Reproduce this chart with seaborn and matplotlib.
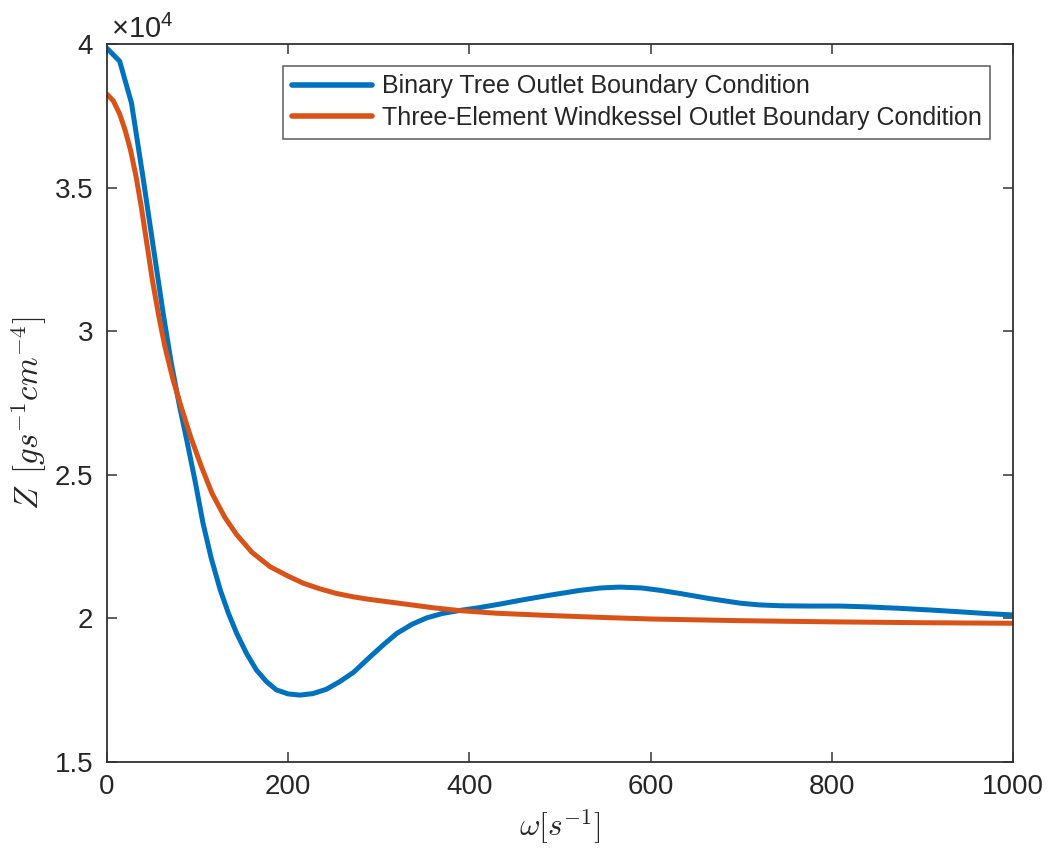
import numpy as np
import pandas as pd
import matplotlib
matplotlib.use("Agg")
import matplotlib.pyplot as plt
import seaborn as sns
from matplotlib.ticker import FuncFormatter, FixedLocator

# Input impedance modulus versus angular frequency for two outlet models
omega_tree = [0, 14, 27, 40, 51, 62, 71, 80, 88, 97, 106, 115, 125, 134, 143,
              154, 165, 176, 187, 200, 213, 227, 242, 257, 272, 290, 305, 320,
              337, 353, 370, 390, 410, 434, 456, 489, 522, 545, 566, 590, 610,
              632, 665, 699, 720, 743, 775, 809, 840, 875, 910, 941, 970, 1000]
z_tree = [39850, 39400, 37950, 35300, 32950, 30620, 28880, 27400, 26210, 24820,
          23310, 22100, 20990, 20180, 19490, 18780, 18200, 17800, 17510, 17370,
          17330, 17380, 17530, 17800, 18120, 18650, 19080, 19480, 19800, 20020,
          20170, 20280, 20370, 20500, 20630, 20810, 20975, 21060, 21090, 21060,
          20980, 20870, 20690, 20530, 20470, 20440, 20430, 20430, 20400, 20350,
          20290, 20230, 20170, 20120]

omega_wk = [0, 7, 14, 20, 26, 32, 38, 44, 50, 57, 64, 73, 82, 92, 104, 116,
            130, 143, 160, 180, 200, 217, 235, 253, 272, 290, 323, 360, 390,
            430, 489, 550, 600, 700, 800, 900, 1000]
z_wk = [38250, 38020, 37560, 37000, 36300, 35400, 34300, 33050, 31800, 30550,
        29450, 28300, 27350, 26350, 25300, 24350, 23520, 22920, 22300, 21800,
        21470, 21220, 21030, 20870, 20750, 20660, 20525, 20370, 20270, 20180,
        20100, 20030, 19980, 19920, 19880, 19850, 19830]

series_names = ["Binary Tree Outlet Boundary Condition",
                "Three-Element Windkessel Outlet Boundary Condition"]
line_colors = ["#0072BD", "#D95319"]

x_ticks = [0, 200, 400, 600, 800, 1000]
y_ticks = [15000, 20000, 25000, 30000, 35000, 40000]

df = pd.concat([
    pd.DataFrame({"omega": omega_tree, "Z": z_tree, "model": series_names[0]}),
    pd.DataFrame({"omega": omega_wk, "Z": z_wk, "model": series_names[1]}),
], ignore_index=True)

sns.set_theme(style="white")
plt.rcParams["font.family"] = ["Liberation Sans", "DejaVu Sans"]
plt.rcParams["mathtext.fontset"] = "cm"

frame_color = "#333333"
text_color = "#262626"

fig = plt.figure(figsize=(10.48, 8.48), dpi=100)
ax = fig.add_axes([107 / 1048, 1 - 762 / 848, (1013 - 107) / 1048, (762 - 44) / 848])

sns.lineplot(data=df, x="omega", y="Z", hue="model", hue_order=series_names,
             palette=line_colors, estimator=None, sort=False, linewidth=3.6,
             ax=ax)

ax.set_xlim(0, 1000)
ax.set_ylim(15000, 40000)
ax.xaxis.set_major_locator(FixedLocator(x_ticks))
ax.yaxis.set_major_locator(FixedLocator(y_ticks))
ax.yaxis.set_major_formatter(FuncFormatter(lambda v, p: f"{v / 1e4:g}"))

for side in ["top", "bottom", "left", "right"]:
    ax.spines[side].set_visible(True)
    ax.spines[side].set_color(frame_color)
    ax.spines[side].set_linewidth(1.3)

ax.tick_params(axis="both", which="major", direction="in", length=7, width=1.1,
               color=frame_color, labelsize=20, labelcolor=text_color,
               top=True, right=True, bottom=True, left=True)
ax.tick_params(axis="x", pad=9)
ax.tick_params(axis="y", pad=10)

ax.set_xlabel(r"$\omega[s^{-1}]$", fontsize=22.5, color=text_color, labelpad=5)
ax.set_ylabel(r"$Z\ \,[gs^{-1}cm^{-4}]$", fontsize=23.5, color=text_color)
ax.yaxis.set_label_coords(-0.064, 0.485)

# exponent shown above the y axis, as a separate multiplier
plt.rcParams["mathtext.rm"] = "Liberation Sans"
ax.text(0.004, 1.009, r"$\times\mathrm{10}^{\mathrm{4}}$", transform=ax.transAxes,
        ha="left", va="baseline", fontsize=21, color=text_color,
        math_fontfamily="custom")

leg = ax.legend(loc="upper right", bbox_to_anchor=(0.975, 0.97), fontsize=18,
                frameon=True, fancybox=False, handlelength=3.2,
                handletextpad=0.4, labelspacing=0.3, borderpad=0.35,
                borderaxespad=0.0)
leg.get_frame().set_edgecolor(frame_color)
leg.get_frame().set_linewidth(1.1)
for line in leg.get_lines():
    line.set_linewidth(4.0)

fig.savefig("out.png", dpi=100, facecolor="white")
